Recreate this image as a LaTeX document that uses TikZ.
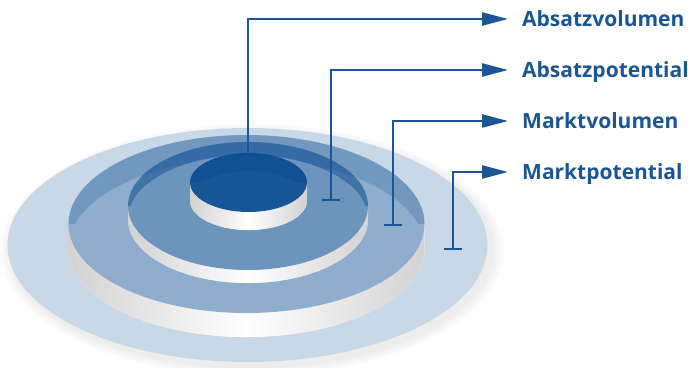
\documentclass[tikz,border=0pt]{standalone}
\usepackage{fontspec}
\setmainfont{Open Sans}
\usetikzlibrary{arrows.meta}
\definecolor{lbl}{RGB}{26,86,150}
\definecolor{discblue}{RGB}{12,78,146}
\newcommand\mydisc[6]{%
  \fill[white] (#1-#3,#2) rectangle (#1+#3,#2+#5);
  \fill[white] (#1,#2+#5) ellipse[x radius=#3, y radius=#4];
  \shade[left color=gray!35, right color=gray!35, middle color=white]
    (#1-#3,#2) arc[start angle=180,end angle=0,x radius=#3,y radius=#4]
    -- (#1+#3,#2+#5) arc[start angle=0,end angle=180,x radius=#3,y radius=#4] -- cycle;
  \fill[discblue, fill opacity=#6] (#1,#2) ellipse[x radius=#3, y radius=#4];
}
\tikzset{
  conn/.style={draw=lbl, line width=2.4pt, -{Triangle[length=26pt,width=13pt]}},
  tconn/.style={draw=lbl, line width=2.4pt, {Bar[width=18pt]}-{Triangle[length=26pt,width=13pt]}},
  lab/.style={anchor=west, inner sep=0pt, text height=15pt, text depth=0pt, text=lbl,
    font=\fontsize{21}{21}\selectfont\bfseries}
}
\begin{document}
\begin{tikzpicture}[x=1pt,y=-1pt]
\useasboundingbox (0,0) rectangle (688,367);
% soft shadow
\foreach \k in {1,...,6}{
  \fill[black, opacity=0.012] (252,250) ellipse[x radius=240+2*\k, y radius=117+1.5*\k];
}
\fill[white] (247.5,245) ellipse[x radius=240, y radius=117];
% outer disc
\fill[discblue, fill opacity=0.22] (247.5,245) ellipse[x radius=240, y radius=117];
\mydisc{246.5}{224}{178}{89}{24}{0.46}
\mydisc{248}{206}{120}{64}{13}{0.6}
\mydisc{248.5}{182.5}{58.5}{29.5}{18}{0.95}
% labels
\node[lab] (t1) at (522,19) {Absatzvolumen};
\node[lab] (t2) at (522,70) {Absatzpotential};
\node[lab] (t3) at (522,121) {Marktvolumen};
\node[lab] (t4) at (522,172) {Marktpotential};
\coordinate (c1) at (248,155);
\coordinate (c2) at (331,201);
\coordinate (c3) at (393,226);
\coordinate (c4) at (453,250);
\draw[conn] (c1) |- ([xshift=-14pt]t1.west);
\draw[tconn] (c2) |- ([xshift=-14pt]t2.west);
\draw[tconn] (c3) |- ([xshift=-14pt]t3.west);
\draw[tconn] (c4) |- ([xshift=-14pt]t4.west);
\end{tikzpicture}
\end{document}
